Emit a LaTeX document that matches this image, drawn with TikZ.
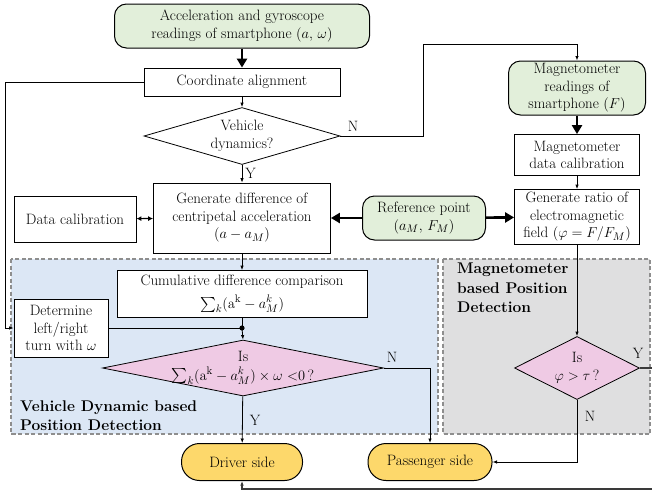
\documentclass[tikz,border=0pt]{standalone}
\usepackage{amsmath}
\usepackage{amssymb}
\usepackage{tikz}
\usetikzlibrary{arrows.meta,shapes.geometric}
\definecolor{lightGreen}{HTML}{E2EFDA}
\definecolor{softPink}{HTML}{EFCAE4}
\definecolor{sunYellow}{HTML}{FDD86B}
\definecolor{paleBlue}{HTML}{DCE7F5}
\definecolor{paleGray}{HTML}{DFDFE0}
\definecolor{frameGray}{HTML}{8E8E8E}
\definecolor{lineGray}{HTML}{3A3A3A}
\newcommand{\boxfont}{\fontsize{15}{17.5}\selectfont}
\tikzset{
  procbox/.style={draw,line width=0.8pt,fill=white,align=center,inner sep=1pt,font=\boxfont},
  inputbox/.style={procbox,fill=lightGreen,rounded corners=12pt,line width=1pt},
  endbox/.style={procbox,fill=sunYellow,rounded corners=18pt,line width=1pt},
  decision/.style={diamond,draw,line width=0.8pt,inner sep=0pt},
  dectext/.style={font=\boxfont,align=center,inner sep=0pt},
  region/.style={draw=frameGray,dashed,line width=1.3pt,dash pattern=on 4pt off 2.5pt},
  conn/.style={line width=0.8pt,-{Latex[length=4.5pt,width=3.5pt]}},
  plain/.style={line width=0.8pt},
  bigarrow/.style={line width=2.6pt,-{Triangle[length=9pt,width=10pt]}},
  edgelbl/.style={font=\boxfont,inner sep=0pt},
  regionlbl/.style={font=\fontsize{15.5}{19.5}\selectfont\bfseries,align=left,inner sep=0pt}
}
\begin{document}
\begin{tikzpicture}[x=1pt,y=-1pt]
\useasboundingbox (0,0) rectangle (652,493);
% shaded areas of the two detection methods
\fill[paleBlue] (11,259) rectangle (438,434);
\draw[region] (11,259) rectangle (438,434);
\fill[paleGray] (443,259) rectangle (650,434);
\draw[region] (443,259) rectangle (650,434);
\node[regionlbl,anchor=south west] (vdlbl) at (20,431) {Vehicle Dynamic based\\Position Detection};
\node[regionlbl,anchor=north west] (mglbl) at (457,263) {Magnetometer\\based Position\\Detection};

\node[inputbox,minimum width=255,minimum height=44] (acc) at (242,26) {Acceleration and gyroscope\\readings of smartphone $(a,\,\omega)$};
\node[procbox,minimum width=196,minimum height=28] (align) at (242,82) {Coordinate alignment};
\node[decision,minimum width=196,minimum height=57,
  label={[dectext]center:{Vehicle\\dynamics?}}] (vdyn) at (242,136) {};
\node[procbox,minimum width=177,minimum height=70] (gendiff) at (242,218) {Generate difference of\\centripetal acceleration\\$(a-a_M)$};
\node[procbox,minimum width=122,minimum height=46] (datacal) at (75,219) {Data calibration};
\node[inputbox,minimum width=123,minimum height=44] (ref) at (424,218) {Reference point\\$(a_M,\,F_M)$};
\node[inputbox,minimum width=137,minimum height=54] (mag) at (577,88) {Magnetometer\\readings of\\smartphone $(F)$};
\node[procbox,minimum width=125,minimum height=41] (magcal) at (577,155) {Magnetometer\\data calibration};
\node[procbox,minimum width=125,minimum height=55] (ratio) at (577,217) {Generate ratio of\\electromagnetic\\field $(\varphi=F/F_M)$};
\node[procbox,minimum width=250,minimum height=47] (cum) at (242,294) {Cumulative difference comparison\\[5pt]$\sum_k(\mathrm{a}^{\mathrm{k}}-a_M^k)$};
\node[procbox,minimum width=94,minimum height=58] (det) at (61,328) {Determine\\left/right\\turn with $\omega$};
\node[decision,fill=softPink,minimum width=281,minimum height=56,
  label={[dectext]center:{Is\\[1pt]$\sum_k(\mathrm{a}^{\mathrm{k}}-a_M^k)\times\omega$ ${<}0$\,?}}] (turn) at (243,368) {};
\node[decision,fill=softPink,minimum width=125,minimum height=63,
  label={[dectext]center:{Is\\[1pt]$\varphi>\tau$\,?}}] (magdia) at (577,368) {};
\node[endbox,minimum width=121,minimum height=37] (driver) at (242,462) {Driver side};
\node[endbox,minimum width=124,minimum height=37] (pass) at (430,462) {Passenger side};

\coordinate (lft) at (5,82);
\coordinate (ntop) at (423,44);
\coordinate (jn) at (242,328);
\coordinate (rgt) at (660,368);
\coordinate (bot) at (660,489);

\draw[bigarrow] (acc) -- (align);
\draw[conn] (align.west) -- (lft) |- (det.west);
\draw[conn] (align) -- (vdyn);
\draw[conn] (vdyn.east) -| (ntop) -| (mag.north);
\draw[conn] (vdyn) -- node[edgelbl,right=3pt] (ylbl1) {Y} (gendiff);
\draw[bigarrow] (mag) -- (magcal);
\draw[conn] (magcal) -- (ratio);
\draw[bigarrow] (ref) -- (ratio);
\draw[bigarrow] (ref) -- (gendiff);
\draw[line width=1.2pt,{Latex[length=5pt,width=5pt]}-{Latex[length=5pt,width=5pt]}] (datacal) -- (gendiff);
\draw[conn] (gendiff) -- (cum);
\draw[plain] (cum.south) -- (jn);
\draw[conn] (jn) -- (turn.north);
\draw[plain] (det.east) -- (jn);
\fill (jn) circle (2.6pt);
\draw[conn] (turn.east) -| (pass.north);
\draw[conn] (turn) -- (driver);
\draw[conn] (ratio) -- (magdia);
\draw[conn] (magdia.south) |- (pass.east);
\draw[conn,lineGray,line width=1.3pt] (magdia.east) -- (rgt) -- (bot) -| (driver.south);

\node[edgelbl] (nlbl1) at (353,126) {N};
\node[edgelbl] (nlbl2) at (392,357) {N};
\node[edgelbl] (ylbl2) at (255,420) {Y};
\node[edgelbl] (ylbl3) at (638,353) {Y};
\node[edgelbl] (nlbl3) at (590,416) {N};
\end{tikzpicture}
\end{document}
